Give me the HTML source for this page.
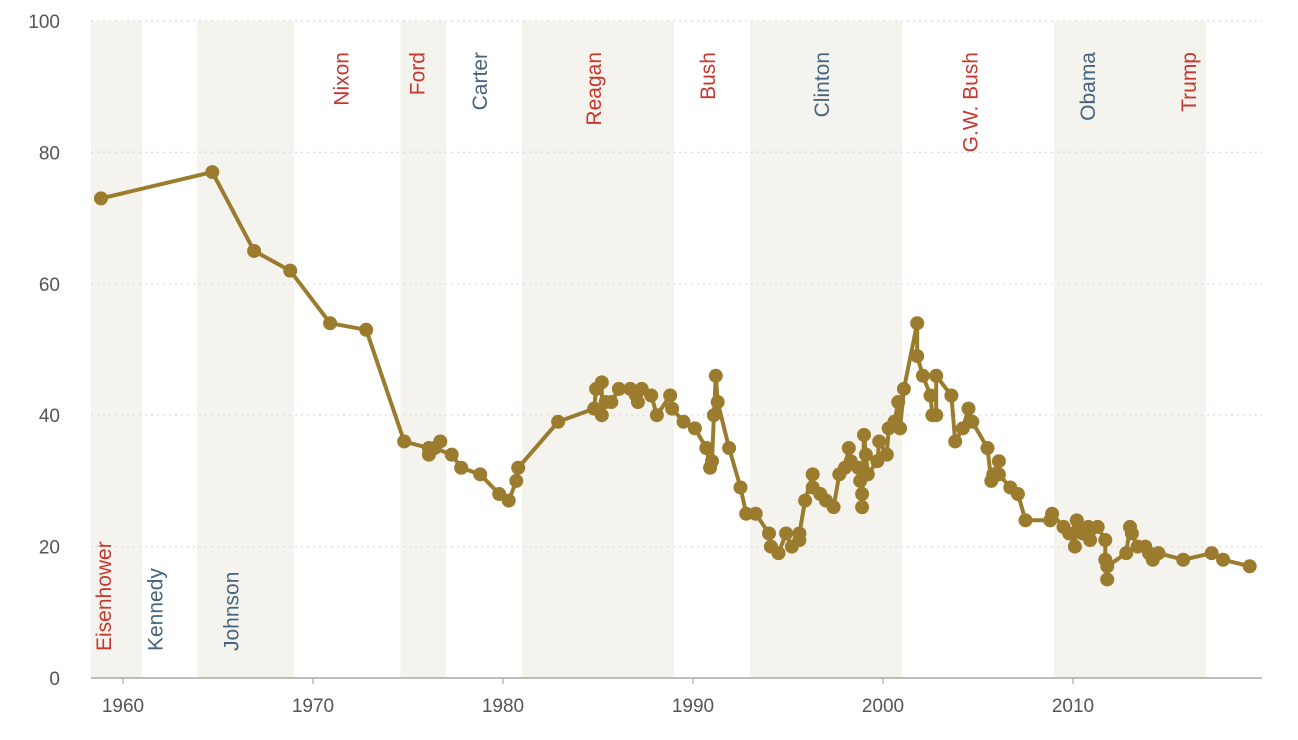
<!DOCTYPE html>
<html><head><meta charset="utf-8"><style>
html,body{margin:0;padding:0;background:#fff;}
svg{display:block;font-family:"Liberation Sans","DejaVu Sans",sans-serif;}
</style></head><body>
<svg id="chart" width="1298" height="740"></svg>
<script>
const tickYears=[1960,1970,1980,1990,2000,2010];
const tickValues=[0,20,40,60,80,100];
const bandStarts=[1958.3,1963.9,1974.6,1981,1993,2009];
const bandEnds=[1961,1969,1977,1989,2001,2017];
const presNames=["Eisenhower","Kennedy","Johnson","Nixon","Ford","Carter","Reagan","Bush","Clinton","G.W. Bush","Obama","Trump"];
const presYears=[1959.0,1961.7,1965.7,1971.5,1975.5,1978.8,1984.8,1990.8,1996.8,2004.6,2010.8,2016.1];
const presParty=["R","D","D","R","R","D","R","R","D","R","D","R"];
const presBottom=[1,1,1,0,0,0,0,0,0,0,0,0];
const years=[1958.84,1964.7,1966.9,1968.8,1970.9,1972.8,1974.8,1976.1,1976.1,1976.7,1976.4,1977.3,1977.8,1978.8,1979.8,1980.3,1980.7,1980.8,1982.9,1984.8,1984.9,1985.2,1985.2,1985.4,1985.7,1986.1,1986.7,1987.0,1987.1,1987.3,1987.8,1988.1,1988.8,1988.9,1989.5,1990.1,1990.7,1990.9,1991.0,1991.1,1991.2,1991.3,1991.9,1992.5,1992.8,1993.3,1994.0,1994.1,1994.5,1994.9,1995.2,1995.6,1995.6,1995.9,1996.3,1996.3,1996.7,1997.0,1997.4,1997.7,1998.0,1998.2,1998.3,1998.7,1998.8,1998.9,1998.9,1999.0,1999.1,1999.2,1999.7,1999.8,2000.2,2000.3,2000.6,2000.8,2000.9,2001.1,2001.8,2001.8,2002.1,2002.5,2002.6,2002.8,2002.8,2003.6,2003.8,2004.2,2004.5,2004.7,2005.5,2005.7,2005.8,2006.1,2006.1,2006.7,2007.1,2007.5,2008.8,2008.9,2009.5,2009.8,2010.1,2010.2,2010.3,2010.5,2010.8,2010.9,2011.3,2011.7,2011.7,2011.8,2011.8,2012.8,2013.0,2013.1,2013.4,2013.8,2014.0,2014.2,2014.5,2015.8,2017.3,2017.9,2019.3];
const values=[73,77,65,62,54,53,36,35,34,36,35,34,32,31,28,27,30,32,39,41,44,45,40,42,42,44,44,43,42,44,43,40,43,41,39,38,35,32,33,40,46,42,35,29,25,25,22,20,19,22,20,21,22,27,31,29,28,27,26,31,32,35,33,32,30,28,26,37,34,31,33,36,34,38,39,42,38,44,54,49,46,43,40,40,46,43,36,38,41,39,35,30,31,33,31,29,28,24,24,25,23,22,20,24,23,22,23,21,23,21,18,15,17,19,23,22,20,20,19,18,19,18,19,18,17];

const NS="http://www.w3.org/2000/svg";
const svg=document.getElementById('chart');
const L=91,R=1262,T=21,B=678;
function xS(y){return 123+(y-1960)*19;}
function yS(v){return B-(v/100)*(B-T);}
function mk(tag,attrs,parent){const e=document.createElementNS(NS,tag);for(const k in attrs)e.setAttribute(k,attrs[k]);(parent||svg).appendChild(e);return e;}

bandStarts.forEach((s,i)=>{
  const r=mk('rect',{x:Math.max(L,xS(s)),y:T,width:xS(bandEnds[i])-Math.max(L,xS(s)),height:B-T,fill:'#f4f3ee'});
  
  
});
tickValues.forEach(v=>{
  if(v>0){const g=mk('line',{x1:L,x2:R,y1:yS(v),y2:yS(v),stroke:'#dcdcdc','stroke-width':1.2,'stroke-dasharray':'2,4'});
  
  }
  const t=mk('text',{x:60,y:yS(v)+7,'text-anchor':'end','font-size':19,fill:'#555'});
  t.textContent=v;
  
  
});
const ax=mk('line',{x1:L,x2:R,y1:B,y2:B,stroke:'#999','stroke-width':1.2});


tickYears.forEach(y=>{
  const tk=mk('line',{x1:xS(y),x2:xS(y),y1:B,y2:B+6,stroke:'#999'});
  
  
  const t=mk('text',{x:xS(y),y:712,'text-anchor':'middle','font-size':19,fill:'#555'});
  t.textContent=y;
  
  
});
presNames.forEach((n,i)=>{
  const x=xS(presYears[i]);
  const col=presParty[i]==='R'?'#c8372d':'#45637f';
  let t;
  if(presBottom[i]){
    t=mk('text',{x:0,y:0,'text-anchor':'start','font-size':21,fill:col,transform:`translate(${x+7},651) rotate(-90)`});
  }else{
    t=mk('text',{x:0,y:0,'text-anchor':'end','font-size':21,fill:col,transform:`translate(${x+7},52) rotate(-90)`});
  }
  t.textContent=n;
  
  
});
const d=years.map((y,i)=>(i?'L':'M')+xS(y).toFixed(1)+','+yS(values[i]).toFixed(1)).join(' ');
const line=mk('path',{d:d,fill:'none',stroke:'#9b7b2e','stroke-width':4,'stroke-linejoin':'round'});


years.forEach((y,i)=>{
  const c=mk('circle',{cx:xS(y),cy:yS(values[i]),r:7,fill:'#9b7b2e'});
  
  
});
</script>
</body></html>
